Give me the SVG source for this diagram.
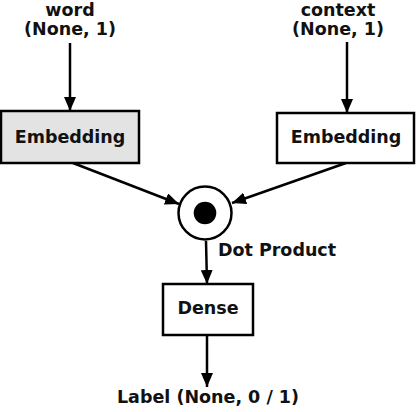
<svg xmlns="http://www.w3.org/2000/svg" width="416" height="412" viewBox="0 0 416 412">
<style>
text{font-family:"DejaVu Sans","Liberation Sans",sans-serif;font-weight:bold;font-size:17.5px;fill:#111;text-anchor:middle}
.box{stroke:#000;stroke-width:2.5;fill:#fff}
.gray{fill:#e3e3e3}
.edge{stroke:#000;stroke-width:2.5;fill:none}
</style>
<defs>
<marker id="ah" viewBox="0 0 14 12" refX="14" refY="6" markerWidth="14" markerHeight="12" markerUnits="userSpaceOnUse" orient="auto">
<path d="M0,0 L14,6 L0,12 Z" fill="#000"/>
</marker>
</defs>
<rect width="416" height="412" fill="#fff"/>
<g id="connectors">
<line class="edge" x1="70" y1="43" x2="70" y2="111" marker-end="url(#ah)"/>
<line class="edge" x1="347" y1="42" x2="347" y2="113" marker-end="url(#ah)"/>
<line class="edge" x1="73" y1="163" x2="179" y2="204" marker-end="url(#ah)"/>
<line class="edge" x1="346" y1="163" x2="232" y2="203" marker-end="url(#ah)"/>
<line class="edge" x1="206" y1="241" x2="207" y2="284" marker-end="url(#ah)"/>
<line class="edge" x1="207" y1="335" x2="207" y2="387" marker-end="url(#ah)"/>
</g>
<g id="word">
<text x="70" y="15.5">word</text>
<text x="70" y="34.5">(None, 1)</text>
</g>
<g id="context">
<text x="338" y="15.5">context</text>
<text x="338" y="34.5">(None, 1)</text>
</g>
<g id="embedding-word">
<rect class="box gray" x="1" y="111" width="138" height="52"/>
<text x="70" y="143">Embedding</text>
</g>
<g id="embedding-context">
<rect class="box" x="277" y="113" width="137" height="50"/>
<text x="346" y="143">Embedding</text>
</g>
<g id="dot-product">
<circle class="box" cx="205" cy="213" r="26.5"/>
<circle cx="205" cy="213" r="11.3" fill="#000"/>
<text x="277" y="256">Dot Product</text>
</g>
<g id="dense">
<rect class="box" x="163" y="284" width="90" height="51"/>
<text x="208" y="314">Dense</text>
</g>
<g id="label">
<text x="208" y="403">Label (None, 0 / 1)</text>
</g>
</svg>
